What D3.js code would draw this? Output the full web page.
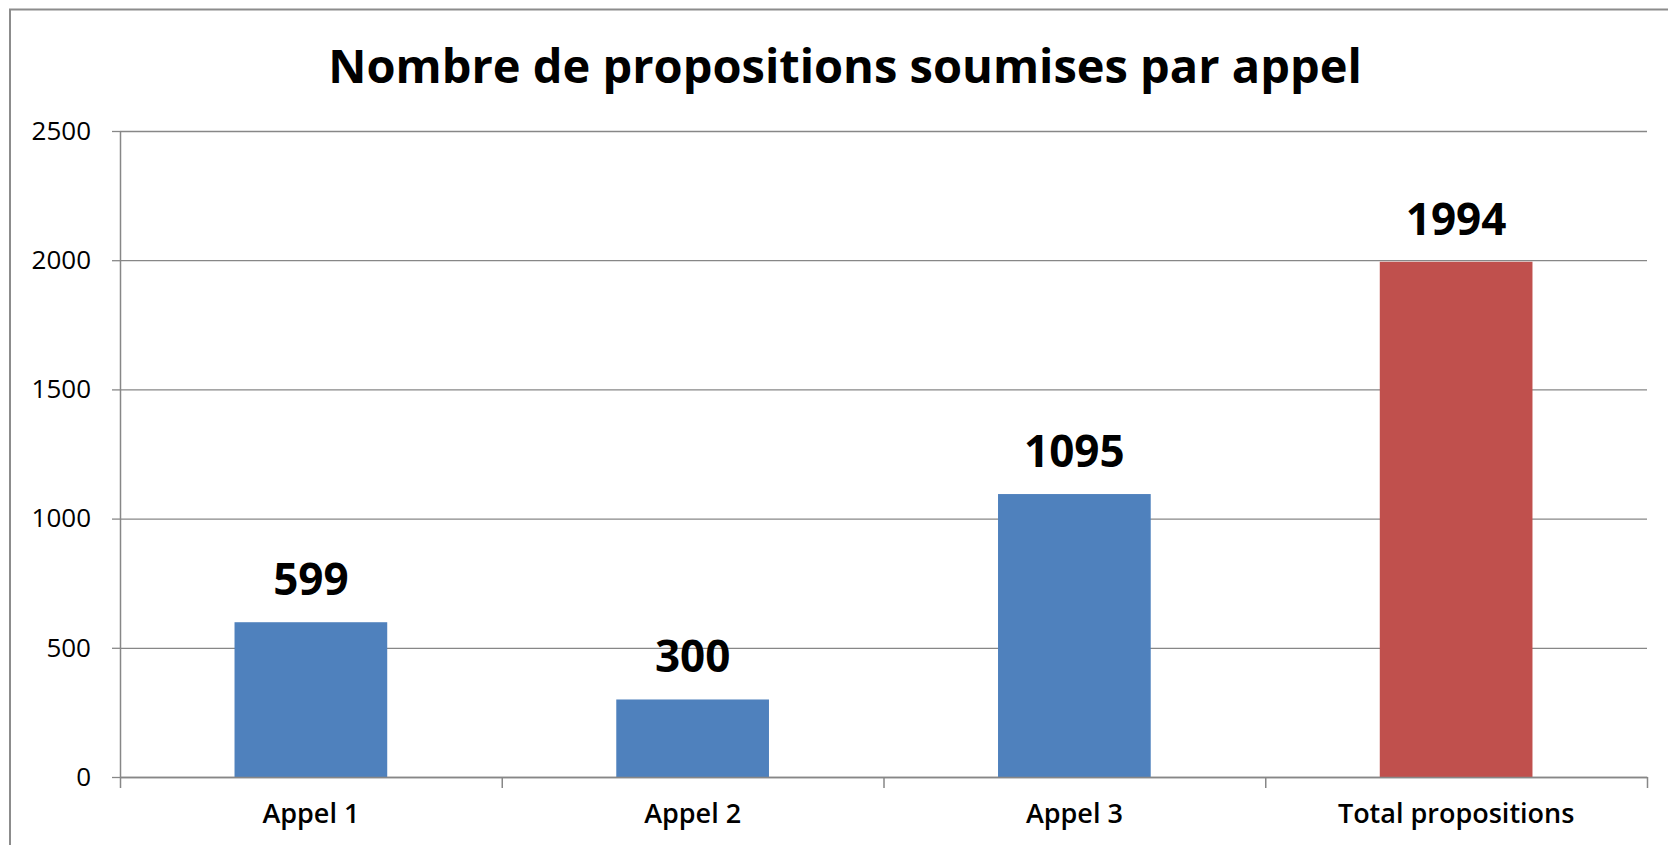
<!DOCTYPE html>
<html>
<head>
<meta charset="utf-8">
<script src="https://cdn.jsdelivr.net/npm/d3@7"></script>
<style>
    body { margin: 0; background: #fff; }
    svg { display: block; }
</style>
</head>
<body>
<div id="chart"></div>
<script>
const categories = ["Appel 1", "Appel 2", "Appel 3", "Total propositions"];
const values = [599, 300, 1095, 1994];
const barColours = ["#4F81BD", "#4F81BD", "#4F81BD", "#C0504D"];
const yTicks = [0, 500, 1000, 1500, 2000, 2500];
const title = "Nombre de propositions soumises par appel";

const W = 1668, H = 845;
const margin = { top: 131, right: 21, bottom: 68, left: 120 },
    width = W - margin.left - margin.right,
    height = H - margin.top - margin.bottom;

const svgContainer = d3.select("#chart").append("svg")
    .attr("width", W)
    .attr("height", H)
    .style("background", "#fff");

// outer chart frame (cut off at right/bottom in the original)
svgContainer.append("rect")
    .attr("x", 10)
    .attr("y", 9.5)
    .attr("width", W)
    .attr("height", H)
    .attr("fill", "none")
    .attr("stroke", "#8c8c8c")
    .attr("stroke-width", 2);

svgContainer.append("text")
    .attr("x", 845)
    .attr("y", 83)
    .attr("text-anchor", "middle")
    .style("font-family", "'Open Sans', sans-serif")
    .style("font-weight", 700)
    .style("font-size", "47px")
    .style("fill", "#000")
    .text(title);

const svg = svgContainer.append("g")
    .attr("transform", `translate(${margin.left},${margin.top})`);

const x = d3.scaleBand()
    .domain(categories)
    .range([0, width])
    .paddingInner(0.6)
    .paddingOuter(0.3);

const y = d3.scaleLinear()
    .domain([0, 2500])
    .range([height, 0]);

// gridlines
svg.append("g")
    .selectAll("line")
    .data(yTicks)
    .join("line")
    .attr("x1", 0)
    .attr("x2", width)
    .attr("y1", d => y(d) + 0.5)
    .attr("y2", d => y(d) + 0.5)
    .attr("stroke", "#878787")
    .attr("stroke-width", 1.3);

// bars
svg.append("g")
    .selectAll("rect")
    .data(values)
    .join("rect")
    .attr("x", (d, i) => x(categories[i]))
    .attr("y", d => y(d))
    .attr("width", x.bandwidth())
    .attr("height", d => height - y(d))
    .attr("fill", (d, i) => barColours[i]);

// data labels
svg.append("g")
    .selectAll("text")
    .data(values)
    .join("text")
    .attr("x", (d, i) => x(categories[i]) + x.bandwidth() / 2)
    .attr("y", d => y(d) - 27)
    .attr("text-anchor", "middle")
    .style("font-family", "'Open Sans', sans-serif")
    .style("font-weight", "bold")
    .style("font-size", "44px")
    .style("fill", "#000")
    .text(d => d);

// y axis
const yAxisGroup = svg.append("g")
    .call(d3.axisLeft(y).tickValues(yTicks).tickFormat(d3.format("d"))
        .tickSize(8).tickPadding(21).tickSizeOuter(0));
yAxisGroup.selectAll("line").style("stroke", "#878787").style("stroke-width", 1.3);
yAxisGroup.select(".domain").style("stroke", "#878787").style("stroke-width", 1.5);
yAxisGroup.selectAll("text")
    .style("font-family", "'Open Sans', sans-serif")
    .style("font-size", "26px")
    .style("font-weight", 500)
    .style("fill", "#000");

// x axis: ticks sit on band boundaries like the spreadsheet chart
const xAxisGroup = svg.append("g")
    .attr("transform", `translate(0,${height})`)
    .call(d3.axisBottom(x).tickSize(0).tickPadding(27).tickSizeOuter(0));
xAxisGroup.select(".domain").style("stroke", "#878787").style("stroke-width", 1.5);
xAxisGroup.selectAll("text")
    .style("font-family", "'Open Sans', sans-serif")
    .style("font-size", "27px")
    .style("font-weight", 600)
    .style("fill", "#000");

const step = x.step();
xAxisGroup.append("g")
    .selectAll("line")
    .data(d3.range(categories.length + 1))
    .join("line")
    .attr("x1", i => i * step + 0.5)
    .attr("x2", i => i * step + 0.5)
    .attr("y1", 0)
    .attr("y2", 11)
    .attr("stroke", "#878787")
    .attr("stroke-width", 1.5);
</script>
</body>
</html>
